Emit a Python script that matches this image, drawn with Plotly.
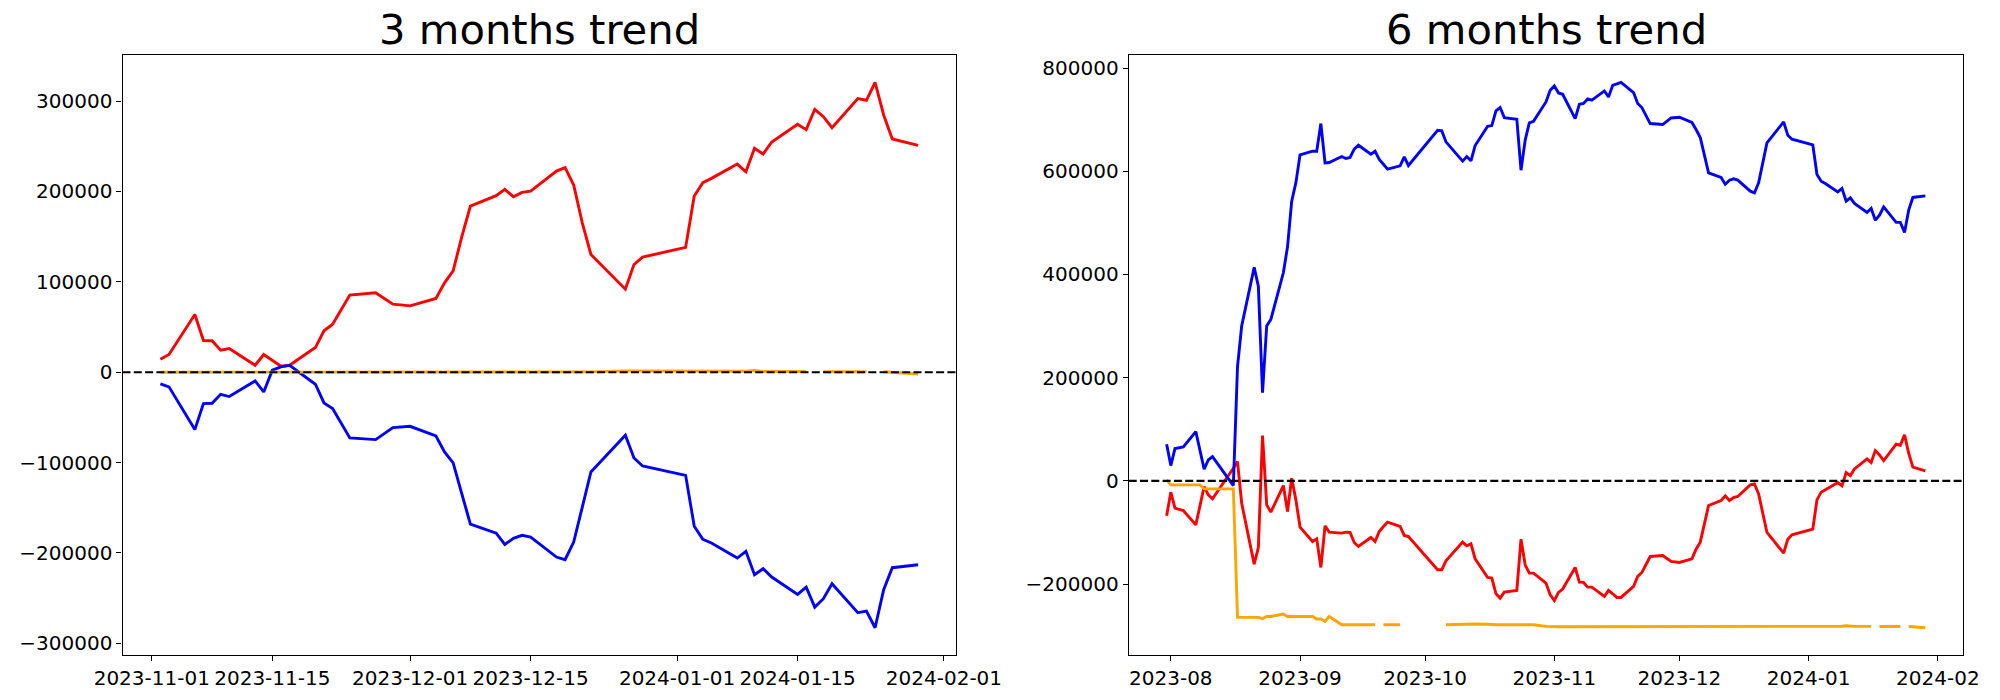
import plotly.graph_objects as go
from datetime import datetime, timedelta

# ---------------- 3 months data ----------------
dates_3m = (
    ["2023-11-%02d" % d for d in [2, 3, 6, 7, 8, 9, 10, 13, 14, 15, 16, 17, 20, 21, 22, 24, 27, 29]]
    + ["2023-12-%02d" % d for d in [1, 4, 5, 6, 7, 8, 11, 12, 13, 14, 15, 18, 19, 20, 21, 22, 26, 27, 28]]
    + ["2024-01-%02d" % d for d in [2, 3, 4, 5, 8, 9, 10, 11, 12, 15, 16, 17, 18, 19, 22, 23, 24, 25, 26, 29]]
)
red_3m = [
    14400, 19600, 63900, 35100, 34800, 24400, 26200, 7700, 19600, 12900, 6600, 7700, 27300, 45800, 53100, 85300, 87800, 75300,
    73400, 81600, 98900, 112200, 149800, 183800, 195300, 202300, 194200, 199000, 200400, 222600, 226300, 207100, 165300, 130300, 91900, 119200, 127300,
    138100, 194900, 209700, 214500, 230300, 221800, 247700, 241400, 254700, 274300, 268400, 290900, 282700, 270600, 302700, 300900, 320800, 284600, 258000, 251000,
]
blue_3m = [
    -12900, -16200, -63500, -34700, -34300, -24400, -26900, -9600, -21800, 2200, 5900, 7700, -13300, -34000, -40200, -72700, -74600, -61300,
    -59800, -70500, -88200, -100400, -134400, -168000, -178000, -190500, -183800, -180500, -182400, -204500, -207400, -187900, -149200, -110400, -69800, -94900, -103800,
    -114100, -170500, -184900, -189000, -205600, -198200, -224000, -217400, -226600, -245800, -237700, -259900, -250600, -234000, -266100, -264300, -282700, -240600, -216300, -213000,
]
orange_3m = (
    [0] * 12 + [200] * 6
    + [200] + [400] * 15 + [1500] * 3
    + [1500, 1500, 1500, 1000, 1000, 1000, 1900, 800, 800, 800, 800, None, 600, 600, 600, 600, None, 500, -300, -1900]
)

# ---------------- 6 months data ----------------
dates_6m = (
    ["2023-07-31"]
    + ["2023-08-%02d" % d for d in [1, 2, 4, 7, 8, 9, 10, 11, 16, 17, 18, 21, 22, 23, 24, 25, 28, 29, 30, 31]]
    + ["2023-09-%02d" % d for d in [1, 4, 5, 6, 7, 8, 11, 12, 13, 14, 15, 18, 19, 20, 21, 22, 25, 26, 27]]
    + ["2023-10-%02d" % d for d in [4, 5, 6, 10, 11, 12, 13, 16, 17, 18, 19, 20, 23, 24, 25, 26, 27, 30, 31]]
    + ["2023-11-%02d" % d for d in [1, 2, 3, 6, 7, 8, 9, 10, 13, 14, 15, 16, 17, 20, 21, 22, 24, 27, 29]]
    + ["2023-12-%02d" % d for d in [1, 4, 5, 6, 8, 11, 12, 13, 14, 15, 18, 19, 20, 22, 26, 27, 28]]
    + ["2024-01-%02d" % d for d in [2, 3, 4, 5, 8, 9, 10, 11, 12, 15, 16, 17, 18, 19, 22, 23, 24, 25, 26, 29]]
)
blue_6m = [
    71000,
    29700, 62600, 65800, 95500, 60000, 22600, 40700, 47100, -9100, 221300, 300100, 413700, 377500, 171000, 300100, 313000, 403300, 453700, 542000, 577600,
    631800, 638900, 638900, 692500, 616300, 617000, 628600, 624800, 626700, 642800, 650500, 633100, 638900, 622800, 613700, 604100, 610500, 627900, 611200,
    679600, 678300, 657000, 619600, 628600, 620200, 649900, 687300, 688600, 717000, 723500, 704100, 700900, 602100, 660200, 693700, 697000, 734400, 757000,
    765400, 751800, 749300, 702200, 729900, 731300, 740200, 737700, 755700, 744100, 766700, 770000, 772500, 752600, 731300, 723500, 692500, 690600, 703400,
    704700, 694500, 680900, 665400, 596900, 588000, 575000, 582800, 585300, 582800, 561500, 558200, 577600, 655000, 695700, 669900, 662200,
    651100, 593800, 580800, 576400, 560100, 566700, 542100, 548500, 537600, 520200, 528000, 505300, 515000, 531100, 500900, 500900, 481500, 524700, 549300, 552400,
]
red_6m = [
    -67800,
    -21900, -52900, -57500, -85200, -49700, -11000, -27100, -34800, 24500, 37400, -43200, -161300, -129100, 87800, -46500, -60600, -9100, -59400, 5200, -36800,
    -89700, -117500, -112300, -167800, -87100, -99400, -101300, -99400, -100000, -119400, -127100, -109700, -117400, -98100, -88400, -80000, -88400, -105800, -107800,
    -172300, -172300, -154900, -118700, -125800, -122000, -151000, -187200, -188400, -218800, -227200, -215500, -212400, -113000, -162600, -178800, -178800, -198100, -220700,
    -231700, -216200, -209700, -167800, -196200, -196800, -205900, -205900, -224000, -212400, -218800, -225900, -225900, -204600, -185200, -177500, -146500, -144600, -156200,
    -158100, -151000, -132300, -118700, -47700, -38100, -29000, -38100, -32200, -30300, -7700, -5800, -25200, -100000, -140000, -113000, -104600,
    -93600, -36800, -21900, -17400, -3200, -9700, 16100, 10300, 23200, 42600, 35500, 58700, 50300, 39400, 71000, 69100, 89100, 53600, 26500, 19400,
]
orange_6m = (
    [1900]
    + [-7700] * 5 + [-15500] * 4 + [-264600] * 4 + [-267200, -262700, -262700, -258100, -262700, -262700, -262700]
    + [-262700, -262700, -267800, -267800, -272400, -262700, -278800, -278800, -278800, -278800, -278800, -278800, -278800, None, -278800, -278800, -278800, None, None]
    + [None, None, -278800, -278000, -277500, -277500, -277500, -278000, -278800, -278800, -278800, -278800, -278800, -278800, -278800, -278800, -278800, -282000, -282700]
    + [-282700] * 19
    + [-282700] * 14 + [-281300] * 3
    + [-281300, -281300, -281300, -281800, -281800, -281800, -280900, -282000, -282000, -282000, -282000, None, -282200, -282200, -282200, -282200, None, -282300, -283000, -284600]
)

titles = ["3 months trend", "6 months trend"]
ticks_3m = ["2023-11-01", "2023-11-15", "2023-12-01", "2023-12-15", "2024-01-01", "2024-01-15", "2024-02-01"]
ticks_6m = ["2023-08-01", "2023-09-01", "2023-10-01", "2023-11-01", "2023-12-01", "2024-01-01", "2024-02-01"]
ticktext_6m = [t[:7] for t in ticks_6m]
yticks_3m = [-300000, -200000, -100000, 0, 100000, 200000, 300000]
yticks_6m = [-200000, 0, 200000, 400000, 600000, 800000]

FONT = "DejaVu Sans"
RED, BLUE, ORANGE = "#ff0000", "#0000ff", "#ffa500"

# page body has a default 8px margin; size the figure so that it fills the 2000x700 window
OFF = 8
W, H = 2000 - OFF, 700 - OFF
# axes boxes in window pixels
LEFT_BOX = (122.5, 956.0)
RIGHT_BOX = (1128.7, 1963.3)
TOP, BOTTOM = 55.0, 655.0


def dom(box):
    return [(box[0] - OFF) / W, (box[1] - OFF) / W]


def date_range(dates, m=0.05):
    ds = [datetime.strptime(d, "%Y-%m-%d") for d in dates]
    d0, d1 = min(ds), max(ds)
    r = d1 - d0
    return [(d0 - r * m).strftime("%Y-%m-%d %H:%M:%S"), (d1 + r * m).strftime("%Y-%m-%d %H:%M:%S")]


def val_range(*series, m=0.05):
    vals = [v for s in series for v in s if v is not None]
    lo, hi = min(vals), max(vals)
    r = hi - lo
    return [lo - r * m, hi + r * m]


def fmt(v):
    return ("\u2212" + str(abs(v))) if v < 0 else str(v)


fig = go.Figure()
for (dates, red, blue, orange, xa, ya) in [
    (dates_3m, red_3m, blue_3m, orange_3m, "x", "y"),
    (dates_6m, red_6m, blue_6m, orange_6m, "x2", "y2"),
]:
    for vals, col in [(red, RED), (blue, BLUE), (orange, ORANGE)]:
        fig.add_trace(go.Scatter(x=dates, y=vals, mode="lines", line=dict(color=col, width=2.9),
                                 xaxis=xa, yaxis=ya, showlegend=False, connectgaps=False))

axis_common = dict(showline=True, mirror=True, linecolor="black", linewidth=1.1,
                   ticks="outside", ticklen=5, tickwidth=1.1, tickcolor="black",
                   showgrid=False, zeroline=False, automargin=False, tickangle=0,
                   tickfont=dict(family=FONT, size=20, color="black"))

fig.update_layout(
    width=W, height=H,
    margin=dict(l=0, r=0, t=TOP - OFF, b=H - (BOTTOM - OFF), autoexpand=False),
    paper_bgcolor="white", plot_bgcolor="white",
    xaxis=dict(domain=dom(LEFT_BOX), type="date", range=date_range(dates_3m),
               tickvals=ticks_3m, ticktext=ticks_3m, anchor="y", **axis_common),
    yaxis=dict(domain=[0, 1], range=val_range(red_3m, blue_3m, orange_3m),
               tickvals=yticks_3m, ticktext=[fmt(v) for v in yticks_3m], anchor="x", **axis_common),
    xaxis2=dict(domain=dom(RIGHT_BOX), type="date", range=date_range(dates_6m),
                tickvals=ticks_6m, ticktext=ticktext_6m, anchor="y2", **axis_common),
    yaxis2=dict(domain=[0, 1], range=val_range(red_6m, blue_6m, orange_6m),
                tickvals=yticks_6m, ticktext=[fmt(v) for v in yticks_6m], anchor="x2", **axis_common),
)

for xa, ya in [("x", "y"), ("x2", "y2")]:
    fig.add_shape(type="line", xref=xa + " domain", yref=ya, x0=0, x1=1, y0=0, y1=0,
                  line=dict(color="black", width=2.1, dash="8px,3.3px"), layer="above")

for title, box in [(titles[0], LEFT_BOX), (titles[1], RIGHT_BOX)]:
    d = dom(box)
    fig.add_annotation(text=title, xref="paper", yref="paper", x=(d[0] + d[1]) / 2, y=1,
                       xanchor="center", yanchor="bottom", yshift=-1, showarrow=False,
                       font=dict(family=FONT, size=41.7, color="black"))

fig.write_html("out.html")
